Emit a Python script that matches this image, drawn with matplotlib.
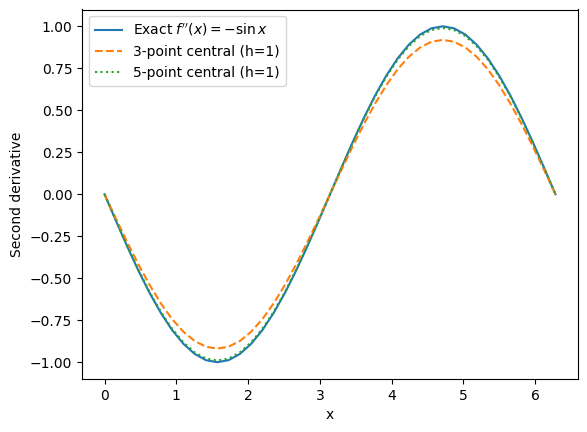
import matplotlib
matplotlib.use("Agg")
import matplotlib.pyplot as plt

# values, x from 0 to 2*pi in steps of ~0.157
x = [0.0, 0.157, 0.314, 0.471, 0.628, 0.785, 0.942, 1.100, 1.257, 1.414,
     1.571, 1.728, 1.885, 2.042, 2.199, 2.356, 2.513, 2.670, 2.827, 2.985,
     3.142, 3.299, 3.456, 3.613, 3.770, 3.927, 4.084, 4.241, 4.398, 4.555,
     4.712, 4.869, 5.027, 5.184, 5.341, 5.498, 5.655, 5.812, 5.969, 6.126, 6.283]

exact = [0.0, -0.156, -0.309, -0.454, -0.588, -0.707, -0.809, -0.891, -0.951, -0.988,
         -1.0, -0.988, -0.951, -0.891, -0.809, -0.707, -0.588, -0.454, -0.309, -0.156,
         0.0, 0.156, 0.309, 0.454, 0.588, 0.707, 0.809, 0.891, 0.951, 0.988,
         1.0, 0.988, 0.951, 0.891, 0.809, 0.707, 0.588, 0.454, 0.309, 0.156, 0.0]

three_pt = [0.0, -0.144, -0.284, -0.417, -0.540, -0.650, -0.744, -0.819, -0.874, -0.908,
            -0.919, -0.908, -0.874, -0.819, -0.744, -0.650, -0.540, -0.417, -0.284, -0.144,
            0.0, 0.144, 0.284, 0.417, 0.540, 0.650, 0.744, 0.819, 0.874, 0.908,
            0.919, 0.908, 0.874, 0.819, 0.744, 0.650, 0.540, 0.417, 0.284, 0.144, 0.0]

five_pt = [0.0, -0.155, -0.306, -0.449, -0.582, -0.700, -0.801, -0.882, -0.942, -0.978,
           -0.990, -0.978, -0.942, -0.882, -0.801, -0.700, -0.582, -0.449, -0.306, -0.155,
           0.0, 0.155, 0.306, 0.449, 0.582, 0.700, 0.801, 0.882, 0.942, 0.978,
           0.990, 0.978, 0.942, 0.882, 0.801, 0.700, 0.582, 0.449, 0.306, 0.155, 0.0]

fig, ax = plt.subplots(figsize=(5.87, 4.32), dpi=100)
fig.subplots_adjust(left=82/587, right=578/587, top=1-9.5/432, bottom=1-379/432)
ax.plot(x, exact, label=r"Exact $f''(x) = -\sin x$")
ax.plot(x, three_pt, '--', label="3-point central (h=1)")
ax.plot(x, five_pt, ':', label="5-point central (h=1)")
ax.set_xlabel('x')
ax.set_ylabel('Second derivative')
ax.legend()
fig.savefig('out.png')
